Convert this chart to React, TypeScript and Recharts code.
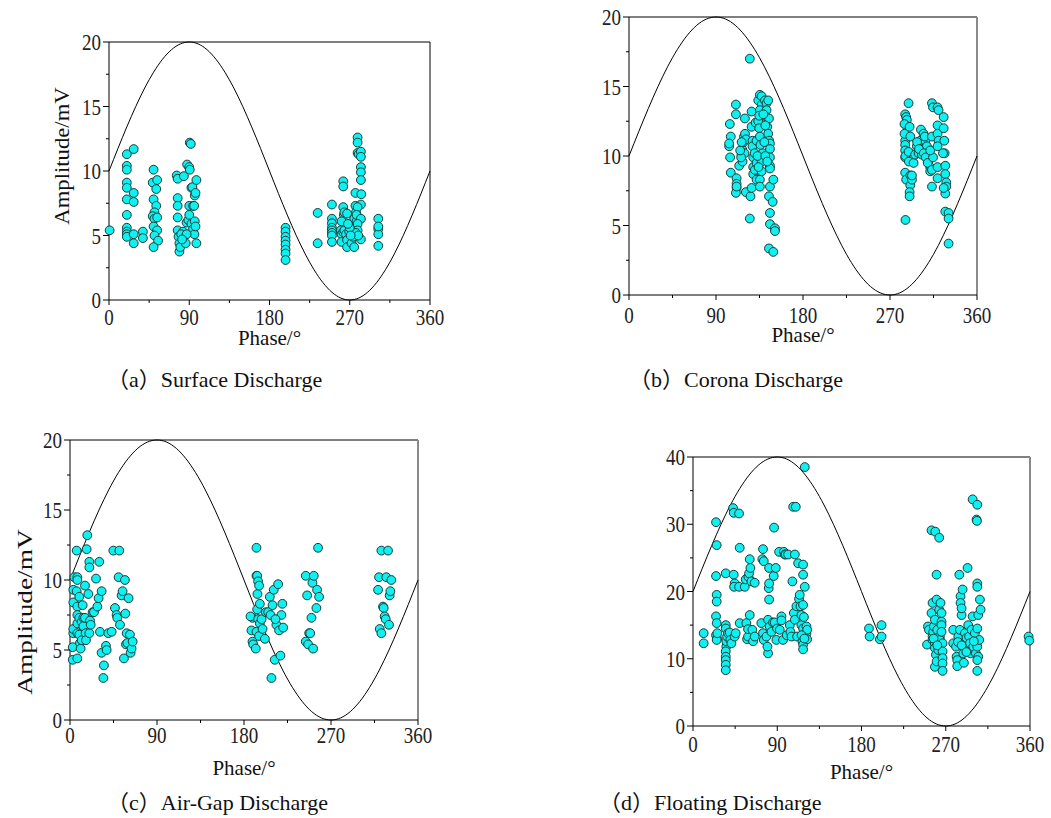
import React from "react";
import { ScatterChart, Scatter, XAxis, YAxis, ReferenceLine, Label } from "recharts";

// phase axis
const phaseTicks = [0, 45, 90, 135, 180, 225, 270, 315, 360];
const ampTicks20 = [0, 2.5, 5, 7.5, 10, 12.5, 15, 17.5, 20];
const ampTicks40 = [0, 5, 10, 15, 20, 25, 30, 35, 40];

// reference sine, read every 10 degrees (0..20 scale)
const sineDeg = [0, 10, 20, 30, 40, 50, 60, 70, 80, 90, 100, 110, 120, 130, 140, 150, 160, 170, 180,
  190, 200, 210, 220, 230, 240, 250, 260, 270, 280, 290, 300, 310, 320, 330, 340, 350, 360];
const sineVal = [10, 11.74, 13.42, 15, 16.43, 17.66, 18.66, 19.4, 19.85, 20, 19.85, 19.4, 18.66, 17.66,
  16.43, 15, 13.42, 11.74, 10, 8.26, 6.58, 5, 3.57, 2.34, 1.34, 0.6, 0.15, 0, 0.15, 0.6, 1.34, 2.34,
  3.57, 5, 6.58, 8.26, 10];

// [phase, amplitude]
const surfacePts = [
  [0.7, 5.4],
  [20, 11.3], [20, 10.4], [20, 10.1], [20, 9.1], [20, 8.7], [20, 7.8], [20, 6.6], [20, 5.6], [20, 5.3], [20, 5.1], [20, 4.9],
  [27.7, 11.7], [27.7, 8.3], [27.7, 7.6], [27.7, 5.1], [27.7, 4.4],
  [38, 5.3], [38, 4.8],
  [50, 10.1], [49, 9.1], [54, 9.3], [53, 8.6], [50, 7.8], [53, 7.3], [51, 6.8], [49, 6.5], [51, 6.3], [54, 6.4], [50, 5.7], [54, 5.4], [51, 5.0], [55, 4.6], [50, 4.1],
  [76, 9.65], [77, 9.4], [84, 9.6], [87.6, 10.5], [90, 10.3], [90.6, 10.1], [90.6, 12.2], [91.7, 12.1], [77, 7.9], [77, 7.3], [77, 6.4], [77, 5.4], [78, 4.9], [79, 4.4], [79, 3.75], [80, 4.1],
  [83, 5.3], [85, 5.0], [86, 4.4], [87, 6.0], [89, 6.2], [90, 6.6], [90, 7.3], [92.4, 8.7], [93.5, 8.75], [94.3, 7.3], [95.5, 7.3], [92.4, 5.9], [94.3, 5.5], [95.8, 5.1], [96.2, 6.1], [97, 5.7],
  [96.2, 8.1], [97, 8.3], [98, 9.3], [98, 4.4], [81, 5.1], [87, 5.1], [82, 4.7],
  [198, 5.6], [198, 5.3], [198, 4.9], [198, 4.6], [198, 4.3], [198, 3.9], [198, 3.6], [198, 3.1],
  [234, 6.75], [234, 4.4],
  [250, 7.4], [250, 6.3], [250, 5.95], [250, 5.6], [250, 5.4], [250, 5.2], [250, 5.0], [250, 4.5],
  [262.7, 9.2], [262.7, 8.8], [262.7, 7.2], [263.4, 6.6], [260.8, 6.1], [264, 6.8], [267, 6.7], [260, 5.4], [260.8, 5.1], [260.8, 4.5], [262.7, 5.25], [264, 5.4], [265.8, 5.1], [267, 4.65], [267, 4.1],
  [269.4, 5.3], [272, 4.4], [273.9, 4.9], [273.9, 5.3], [275, 4.1], [273.9, 5.7], [275, 6.3], [276.4, 8.3], [276.4, 7.3], [277, 6.8], [277.6, 6.1],
  [278.8, 12.6], [278.8, 12.2], [278.8, 11.4], [280, 11.3], [282.5, 11.5], [282.5, 11.1], [282.5, 10.3], [282.5, 9.9], [282.5, 9.3], [283, 8.2], [282.5, 7.4], [278.8, 7.2], [277.6, 6.6], [282.5, 6.3],
  [278.8, 5.9], [282.5, 4.7], [278.8, 5.4], [277, 5.2], [279.5, 5.0], [270, 5.6], [271, 5.0], [268, 5.9],
  [302, 6.3], [302, 5.5], [302, 5.1], [302, 4.2], [302, 5.7],
];

const coronaPts = [
  [104.3, 12.3], [103.6, 10.7], [105.3, 11.4], [104.6, 9.9], [105.3, 8.8], [103.6, 10.9],
  [110.6, 13.7], [110.6, 13.0], [111.3, 8.4], [111.3, 8.0], [111.3, 7.7], [110.6, 7.35], [111.3, 7.8],
  [114, 9.3], [116.4, 10.1], [117, 10.5], [118.5, 11.0], [119, 11.4], [120, 11.6], [121, 11.2], [119.5, 10.2], [117.5, 9.6], [116, 9.9], [115, 10.4], [116.5, 11.0],
  [119.9, 12.7], [120.9, 7.4],
  [125, 17.0], [125, 5.5], [125.7, 7.1], [126.8, 7.7],
  [126.8, 13.2], [126.8, 12.1], [127.8, 11.1], [127.8, 10.7], [128.5, 9.9], [128.5, 9.2], [128.5, 8.7],
  [130.2, 9.0], [132, 8.3], [132, 9.5], [132, 11.1], [130, 10.2], [131, 12.4],
  [133.7, 12.5], [133.7, 14.0], [135.4, 14.4], [137.2, 14.3], [137.2, 13.7], [135.4, 13.3], [134.7, 12.9], [134.7, 12.0], [135.4, 11.4], [135.4, 8.3], [135.4, 7.8], [137.2, 8.9], [137.2, 9.6], [138.2, 10.2], [136, 10.8], [133, 10.0], [134, 9.2],
  [140.6, 14.0], [142.3, 13.8], [142.3, 13.3], [142.3, 12.8], [143, 12.1], [144, 11.6], [145, 11.1], [145.8, 10.9], [145.8, 10.5], [145.8, 9.9], [145.8, 9.3], [145.8, 9.1], [144.8, 12.7],
  [145.8, 7.8], [144.8, 7.1], [145.8, 5.9], [145.8, 5.1], [144.8, 3.35], [149.3, 3.1], [149.3, 8.3], [148.6, 6.7], [151, 4.8], [151, 4.6], [140, 11.0], [141, 10.0], [143, 9.6], [141, 12.2], [139, 13.0], [144, 14.0],
  [285.7, 13.0], [286.7, 12.8], [287.4, 12.6], [285.7, 11.1], [285.7, 10.8], [285.7, 10.4], [285.7, 9.9], [285.7, 8.8], [286.7, 8.3], [286, 5.4], [285, 12.3], [285, 11.6], [286, 10.0],
  [289.2, 13.8], [290.3, 12.1], [291, 11.4], [289.2, 10.3], [291, 8.6], [291, 7.9], [290.3, 7.4], [290.3, 7.1], [292.7, 8.3], [292.7, 8.6], [289.5, 9.6],
  [294.4, 9.5], [296, 10.1], [297.8, 10.7], [301.3, 11.1], [302, 11.9], [304.7, 11.6], [306.5, 11.1], [308.2, 10.7], [310, 9.7], [311.6, 9.2], [311.6, 8.9], [299.6, 10.2], [303, 10.1], [298, 11.0], [300, 10.5], [305, 10.2], [307, 9.9], [309, 9.5], [306, 11.4],
  [313.4, 13.8], [314.5, 13.5], [313.4, 11.4], [314.5, 9.9], [313.4, 9.0], [313.4, 7.8], [311.6, 10.4],
  [319.2, 13.5], [319.2, 12.2], [319.2, 11.6], [320.2, 11.1], [319.2, 10.7], [319.2, 9.2], [319.2, 8.4], [320.2, 13.3],
  [325.5, 12.8], [325.5, 12.0], [326.2, 11.1], [326.5, 10.2], [327.2, 9.3], [327.2, 8.7], [328.2, 8.1], [328.2, 7.8], [327.2, 7.3], [327.2, 6.0], [330.6, 5.9], [330.6, 5.5], [330.6, 3.7], [325.5, 7.7], [324.8, 10.2],
];

const airGapPts = [
  [2.8, 4.3], [2.8, 5.2], [3.4, 6.2], [3.4, 6.5], [3.4, 8.4], [3.4, 9.3], [4.5, 10.2], [6.9, 12.1], [7.6, 10.2], [7.6, 10.0], [6.9, 9.2], [7.6, 8.1], [7.6, 7.5], [7.6, 6.9], [7.6, 6.2], [7.6, 4.4],
  [9.6, 8.8], [9.6, 7.3], [9.6, 6.1], [10.3, 5.5], [11, 5.1], [12.1, 5.7], [12.1, 7.0], [13.1, 8.2], [13.8, 7.3], [13.8, 6.7], [15.5, 9.6], [15.5, 7.3], [16.2, 6.2], [16.5, 5.7], [17.2, 12.2], [17.9, 13.2],
  [19, 9.0], [20, 11.3], [20, 10.9], [20, 6.2], [20.7, 7.1], [21.4, 6.8], [23.4, 7.7], [24.8, 7.7], [26.9, 10.1], [28.3, 8.1], [29.6, 8.7], [30.3, 11.3], [31, 6.3], [32.7, 9.2], [32.7, 4.8],
  [34.5, 3.0], [35.1, 3.9], [37.2, 5.3], [37.9, 5.0], [39.6, 6.2], [43.1, 6.3], [44.8, 12.1], [46.5, 8.0], [48.2, 7.5], [48.9, 7.3], [51, 12.1], [50.3, 10.2], [51.7, 6.8], [53.4, 8.9], [54.4, 9.2],
  [55.8, 4.4], [56.8, 10.0], [57.2, 7.6], [57.9, 5.4], [58.6, 6.2], [59.3, 5.5], [60.6, 8.7], [62, 6.1], [62.7, 4.8], [63.7, 5.1], [64.8, 5.6],
  [192.9, 10.3], [193.9, 9.0], [188.8, 7.3], [186.7, 7.4], [187.7, 6.4], [188.8, 5.6], [189.5, 5.4], [192.2, 5.1], [193.6, 10.3], [194.6, 9.9], [195.6, 9.6], [192.9, 12.3], [193.6, 7.9], [194.6, 7.2],
  [194.6, 6.2], [192.9, 6.3], [195.6, 6.0], [196.4, 8.3], [196.4, 6.9], [198.2, 7.2], [199.2, 6.5], [201.6, 5.8], [202.6, 7.7], [205, 7.7], [206.7, 8.8], [207.4, 7.5], [209.5, 8.2], [210.8, 9.3],
  [211.8, 4.3], [208.4, 3.0], [213.5, 6.8], [215.3, 9.7], [216.3, 6.4], [217.7, 4.6], [218.7, 7.5], [219.7, 8.3], [220.5, 6.6], [212.5, 7.2],
  [243.9, 10.3], [245.3, 8.9], [243.9, 5.6], [246.3, 5.4], [247.4, 6.2], [249.8, 7.3], [250.8, 9.8], [251.5, 5.1], [252.2, 10.3], [254.9, 8.0], [255.6, 9.3], [257.7, 8.8], [256.6, 12.3], [248.5, 6.2],
  [318.7, 9.3], [319.7, 10.2], [320.4, 6.5], [322.1, 6.2], [322.1, 12.1], [323.8, 8.1], [324.5, 8.0], [325.5, 7.4], [327.2, 10.2], [326.6, 7.2], [329, 12.1], [330, 6.8], [330.7, 8.9], [331.4, 9.2], [332.4, 10.0],
];

const floatingPts = [
  [11.4, 13.8], [11.4, 12.3],
  [24.6, 30.3], [25.3, 26.9], [24.6, 22.3], [25.3, 19.5], [25.3, 18.5], [24.6, 16.3], [25.3, 15.3], [24.6, 13.5], [25.7, 13.0], [25.3, 12.8], [26, 13.8],
  [35, 15.0], [35, 14.5], [35.6, 11.8], [35, 11.1], [35, 10.3], [35, 9.8], [35, 9.1], [35, 8.3], [35.6, 12.6], [36.4, 13.3], [35, 22.7], [37.4, 13.8],
  [39.2, 13.9], [39.9, 12.8], [41, 12.3], [42.8, 32.4], [43.5, 31.7], [43.5, 22.5], [44.5, 21.2], [43.9, 20.7], [44.5, 13.3], [45.6, 13.8], [49.2, 31.6], [49.2, 20.7], [49.9, 26.5], [49.9, 15.3],
  [55.3, 20.7], [56.3, 21.8], [57, 15.3], [57.8, 12.9], [58.8, 13.3], [58.8, 14.4], [59.2, 22.2], [59.9, 22.7], [60.6, 24.8], [60.6, 16.5], [61.3, 23.5], [62.4, 21.5], [64.2, 12.6], [63.4, 14.3], [65.9, 21.3], [65.9, 13.3],
  [73, 15.3], [74.1, 24.8], [74.8, 26.3], [75.6, 24.5], [74.8, 13.8], [75.6, 12.8], [78.4, 13.3], [80.2, 10.8], [79.5, 11.8], [80.2, 15.8], [80.9, 20.5], [81.3, 21.2], [81.3, 18.8], [81.3, 23.5],
  [82, 14.8], [83.8, 14.0], [85.5, 15.4], [86.2, 22.3], [86.6, 29.5], [87.3, 15.4], [88.4, 23.5], [89.1, 12.8], [89.8, 14.5], [92, 25.9], [92.7, 14.3], [94.5, 16.3], [94.5, 15.7], [96.2, 12.8],
  [97, 25.9], [98, 25.5], [99.1, 25.5], [100.2, 13.5], [101.6, 25.5],
  [103.4, 15.0], [104.1, 14.0], [105.2, 13.3], [106.2, 21.5], [107, 32.6], [107.7, 16.8], [108.8, 15.8], [109.8, 32.6], [108.8, 25.5], [110.5, 17.8], [111.2, 13.3], [112.3, 24.2], [113.3, 18.9],
  [114, 19.5], [114.8, 17.8], [115.8, 16.5], [115.8, 15.0], [116.9, 12.6], [117.6, 24.0], [117.6, 22.5], [117.6, 18.0], [117.6, 14.5], [117.6, 12.1], [117.6, 11.4], [119.4, 38.5], [119.4, 20.7],
  [121.2, 14.8], [121.2, 13.8], [121.9, 12.9], [121.9, 14.3], [118.5, 16.2], [116, 13.5], [119, 13.0],
  [188, 14.5], [188.7, 13.3], [199.6, 12.9], [201.4, 15.0], [201.4, 13.3],
  [358.5, 13.3], [359.2, 12.7],
  [250, 12.1], [251, 14.8], [252, 14.3],
  [254.8, 29.1], [254.8, 16.8], [255.9, 18.3], [255.9, 13.3], [255.9, 12.8], [256.6, 14.0], [257.3, 14.8], [258.4, 15.8], [258.4, 8.8], [258.4, 12.3], [258.4, 11.6], [258.8, 28.9], [259.5, 10.6],
  [260.2, 9.6], [260.2, 18.8], [260.2, 22.5], [260.9, 14.3], [262, 11.3], [263, 28.0], [263, 17.3], [263.7, 13.3], [263.7, 12.8], [264.4, 18.3], [265.5, 15.5], [265.5, 15.0], [265.5, 14.0],
  [266.6, 12.3], [266.6, 11.1], [266.6, 10.1], [266.6, 9.3], [266.6, 8.2], [265.5, 16.8], [257, 13.0], [261, 12.0],
  [278, 14.3], [278, 12.3], [281, 11.8], [281.6, 10.3], [282.3, 9.8], [282.3, 8.9], [283.4, 13.3], [284.5, 22.5], [285.1, 14.3], [285.8, 19.3], [285.8, 18.3], [286.9, 16.5], [286.9, 17.5],
  [288, 20.3], [288, 11.8], [288.7, 10.8], [289.4, 9.4], [290.5, 13.8], [291.5, 12.6], [292.2, 13.1], [293.3, 23.5], [294, 15.0], [295, 13.3], [295.8, 12.3], [296.5, 10.8], [297.6, 14.3],
  [298.7, 33.7], [298.7, 16.3], [299.4, 11.8], [301.1, 13.8], [302.2, 10.8], [302.9, 30.7], [303.7, 32.9], [303.7, 21.2], [303.7, 20.7], [303.7, 14.5], [303.7, 11.8], [304.7, 10.3], [303.7, 9.8],
  [303.7, 8.2], [304.7, 16.5], [305.8, 12.8], [306.5, 18.8], [307.2, 17.3], [303.3, 30.5], [283, 12.5], [287, 12.0], [292, 11.0], [300, 12.6],
];

const FONT = '"Liberation Serif", "Times New Roman", serif';
const CAP_FONT = '"Liberation Serif", "Noto Sans CJK SC", serif';

const Dot = (p: any) => (
  <circle cx={p.cx} cy={p.cy} r={4.4} fill="#0ff0f0" stroke="#173a3a" strokeWidth={1} />
);

const PhaseTick = (props: any) => {
  const { x, y, payload, labelDy } = props;
  const major = payload.value % 90 === 0;
  return (
    <g>
      <line x1={x} x2={x} y1={y} y2={y + (major ? 5 : 3)} stroke="#000" />
      {major && (
        <text transform={`translate(${x},${y + labelDy}) scale(1,1.25)`} textAnchor="middle"
          fontFamily={FONT} fontSize={19} fill="#222">
          {payload.value}
        </text>
      )}
    </g>
  );
};

const AmpTick = (props: any) => {
  const { x, y, payload, step } = props;
  const major = payload.value % step === 0;
  return (
    <g>
      <line x1={x} x2={x - (major ? 6 : 3)} y1={y} y2={y} stroke="#000" />
      {major && (
        <text transform={`translate(${x - 8},${y + 8}) scale(1,1.25)`} textAnchor="end"
          fontFamily={FONT} fontSize={19} fill="#222">
          {payload.value}
        </text>
      )}
    </g>
  );
};

function Panel({ left, top, w, h, pts, yMax, yTicks, step, tickDy, labelDy, edge }: any) {
  const yW = 60;
  const mTop = 22;
  const mRight = 28;
  const xH = 62;
  const data = pts.map((p: number[]) => ({ x: p[0], y: p[1] }));
  const sine = sineDeg.map((d, i) => ({ x: d, y: (sineVal[i] * yMax) / 20 }));
  return (
    <div style={{ position: "absolute", left: left - yW, top: top - mTop }}>
      <ScatterChart width={yW + w + mRight} height={mTop + h + xH}
        margin={{ top: mTop, right: mRight, left: 0, bottom: 0 }}>
        <XAxis type="number" dataKey="x" domain={[0, 360]} ticks={phaseTicks} interval={0}
          tickSize={0} tickMargin={0} tickLine={false} height={xH} axisLine={{ stroke: "#000" }}
          tick={(p: any) => <PhaseTick {...p} labelDy={tickDy} />}>
          <Label content={(p: any) => (
            <text x={p.viewBox.x + p.viewBox.width / 2} y={p.viewBox.y + labelDy} textAnchor="middle"
              fontFamily={FONT} fontSize={21} fill="#111">Phase/°</text>
          )} />
        </XAxis>
        <YAxis type="number" dataKey="y" domain={[0, yMax]} ticks={yTicks} interval={0} width={yW}
          tickSize={0} tickMargin={0} tickLine={false} axisLine={{ stroke: "#000" }}
          tick={(p: any) => <AmpTick {...p} step={step} />} />
        <ReferenceLine y={yMax} stroke="#000" strokeWidth={1} />
        <ReferenceLine x={360} stroke={edge ? "#8a8a8a" : "#000"} strokeWidth={edge ? 2 : 1} />
        <Scatter data={sine} line={{ stroke: "#000", strokeWidth: 1 }} lineType="joint"
          lineJointType="monotoneX" shape={() => <g />} isAnimationActive={false} />
        <Scatter data={data} shape={Dot} isAnimationActive={false} />
      </ScatterChart>
    </div>
  );
}

const capStyle = (left: number, cy: number): React.CSSProperties => ({
  position: "absolute", left, top: cy - 11, height: 22, lineHeight: "22px", fontFamily: CAP_FONT,
  fontSize: 22, color: "#111", whiteSpace: "nowrap",
});

const yLabStyle = (cx: number, cy: number, sx: number): React.CSSProperties => ({
  position: "absolute", left: cx, top: cy, fontFamily: FONT, fontSize: 21, color: "#111",
  whiteSpace: "nowrap", transform: `translate(-50%,-50%) rotate(-90deg) scale(${sx},1)`,
});

export default function App() {
  return (
    <div style={{ position: "absolute", left: 0, top: 0, width: 1051, height: 818, background: "#fff", overflow: "hidden" }}>
      <Panel left={109} top={42} w={321} h={258} pts={surfacePts} yMax={20} yTicks={ampTicks20} step={5}
        tickDy={25} labelDy={45} edge={false} />
      <Panel left={629} top={17} w={348} h={278} pts={coronaPts} yMax={20} yTicks={ampTicks20} step={5}
        tickDy={28} labelDy={47} edge={true} />
      <Panel left={70} top={440} w={348} h={280} pts={airGapPts} yMax={20} yTicks={ampTicks20} step={5}
        tickDy={23} labelDy={55} edge={true} />
      <Panel left={693} top={457} w={337} h={269} pts={floatingPts} yMax={40} yTicks={ampTicks40} step={10}
        tickDy={26} labelDy={53} edge={true} />

      <div style={yLabStyle(62, 156, 1.08)}>Amplitude/mV</div>
      <div style={yLabStyle(25, 612, 1.3)}>Amplitude/mV</div>

      <div style={capStyle(107, 380)}>（a）Surface Discharge</div>
      <div style={capStyle(629, 380)}>（b）Corona Discharge</div>
      <div style={capStyle(107, 803)}>（c）Air-Gap Discharge</div>
      <div style={capStyle(599, 803)}>（d）Floating Discharge</div>
    </div>
  );
}
